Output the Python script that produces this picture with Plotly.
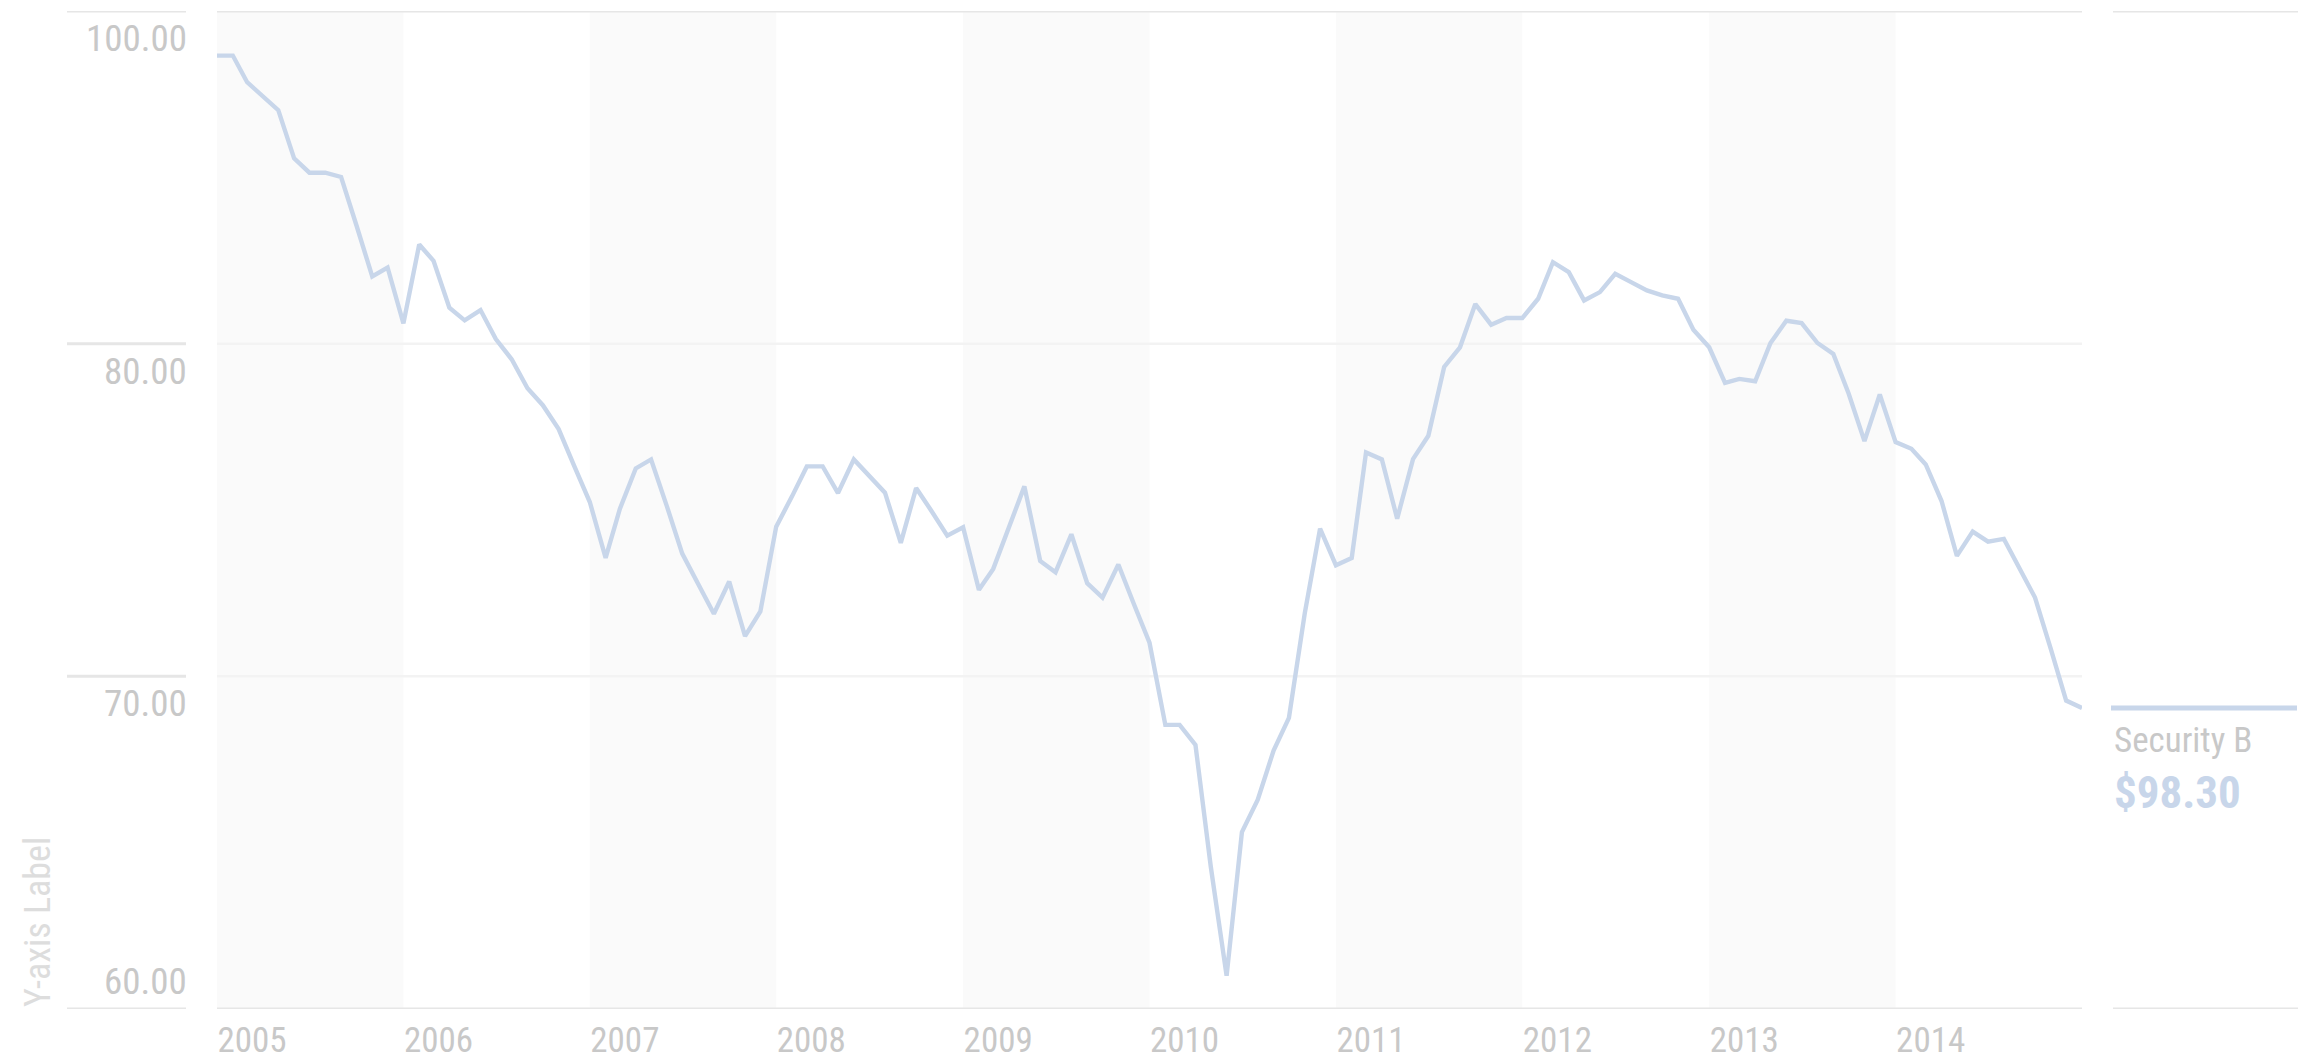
import pandas as pd
import plotly.graph_objects as go

# ---------------- data ----------------
start_month = "2005-01-01"
values = [
    88.66, 88.66, 87.86, 87.44, 87.02, 85.57, 85.14, 85.14, 85.01, 83.56, 82.02, 82.29,
    80.61, 82.98, 82.49, 81.08, 80.70, 81.01, 80.14, 79.53, 78.66, 78.15, 77.43, 76.34,
    75.24, 73.56, 75.04, 76.25, 76.52, 75.11, 73.69, 72.78, 71.88, 72.85, 71.21, 71.95,
    74.50, 75.41, 76.31, 76.31, 75.51, 76.52, 76.02, 75.52, 74.01, 75.66, 74.95, 74.23,
    74.48, 72.60, 73.23, 74.48, 75.71, 73.47, 73.13, 74.27, 72.80, 72.37, 73.36, 72.19,
    71.01, 68.54, 68.54, 67.94, 64.28, 61.00, 65.32, 66.29, 67.77, 68.75, 71.89, 74.44,
    73.34, 73.56, 76.73, 76.52, 74.74, 76.53, 77.23, 79.30, 79.89, 81.19, 80.57, 80.77,
    80.77, 81.35, 82.45, 82.15, 81.30, 81.55, 82.10, 81.85, 81.60, 81.45, 81.35, 80.42,
    79.89, 78.82, 78.94, 78.87, 80.02, 80.69, 80.62, 80.02, 79.69, 78.50, 77.07, 78.47,
    77.04, 76.84, 76.37, 75.27, 73.62, 74.35, 74.05, 74.13, 73.27, 72.37, 70.82, 69.27,
    69.05,
]
dates = pd.date_range(start_month, periods=len(values), freq="MS")

years = list(range(2005, 2015))
year_labels = [str(y) for y in years]
shaded_years = [2005, 2007, 2009, 2011, 2013]

y_tickvals = [90, 80, 70, 60]
y_ticktext = ["100.00", "80.00", "70.00", "60.00"]

series_name = "Security B"
series_value_label = "$98.30"
y_title = "Y-axis Label"

# ---------------- style ----------------
# the page body keeps its default 8px margin; the figure is offset by it
BODY = 8
W, H = 2306 - BODY, 1061 - BODY
ML, MT = 217 - BODY, 11 - BODY
MR = W - (2082 - BODY)
MB = H - (1009 - BODY)
PW = W - ML - MR
FONT = "Liberation Sans Narrow, Roboto Condensed, DejaVu Sans Condensed, Liberation Sans, sans-serif"
LINE_COLOR = "#c8d6ea"
TEXT_GRAY = "#c8c8c8"
GRID_DARK = "#e6e6e6"
GRID_LIGHT = "#f3f3f3"
BAND = "#fafafa"


def px_to_paper_x(px):
    # px measured on the page
    return (px - BODY - ML) / PW


fig = go.Figure()
fig.add_trace(go.Scatter(
    x=dates, y=values, mode="lines",
    line=dict(color=LINE_COLOR, width=4.4),
    hoverinfo="skip", showlegend=False,
))

shapes = []
for y in shaded_years:
    shapes.append(dict(type="rect", xref="x", yref="paper",
                       x0=f"{y}-01-01", x1=f"{y + 1}-01-01", y0=0, y1=1,
                       fillcolor=BAND, line=dict(width=0), layer="below"))

for v in y_tickvals:
    edge = v in (max(y_tickvals), min(y_tickvals))
    shapes.append(dict(type="line", xref="paper", yref="y", x0=0, x1=1, y0=v, y1=v,
                       line=dict(color=GRID_DARK if edge else GRID_LIGHT, width=3 if edge else 2.5),
                       layer="below"))
    shapes.append(dict(type="line", xref="paper", yref="y",
                       x0=px_to_paper_x(67), x1=px_to_paper_x(186), y0=v, y1=v,
                       line=dict(color=GRID_DARK, width=3), layer="below"))
    if edge:
        shapes.append(dict(type="line", xref="paper", yref="y",
                           x0=px_to_paper_x(2113), x1=px_to_paper_x(2299), y0=v, y1=v,
                           line=dict(color=GRID_DARK, width=3), layer="below"))

shapes.append(dict(type="line", xref="paper", yref="y",
                   x0=px_to_paper_x(2111), x1=px_to_paper_x(2297),
                   y0=values[-1], y1=values[-1],
                   line=dict(color=LINE_COLOR, width=5)))

annotations = []
for v, t in zip(y_tickvals, y_ticktext):
    bottom = v == min(y_tickvals)
    annotations.append(dict(
        xref="paper", yref="y", x=px_to_paper_x(189), y=v, text=t, showarrow=False,
        xanchor="right", yanchor="bottom" if bottom else "top",
        yshift=4 if bottom else -4,
        font=dict(family=FONT, size=37, color=TEXT_GRAY),
    ))

annotations.append(dict(
    xref="paper", yref="paper", x=px_to_paper_x(38), y=0, text=y_title, showarrow=False,
    textangle=-90, xanchor="center", yanchor="bottom",
    font=dict(family=FONT, size=36, color="#dddddd"),
))
annotations.append(dict(
    xref="paper", yref="y", x=px_to_paper_x(2112), y=values[-1], text=series_name,
    showarrow=False, xanchor="left", yanchor="top", yshift=-10,
    font=dict(family=FONT, size=35, color=TEXT_GRAY),
))
annotations.append(dict(
    xref="paper", yref="y", x=px_to_paper_x(2112), y=values[-1],
    text=f"<b>{series_value_label}</b>",
    showarrow=False, xanchor="left", yanchor="top", yshift=-56,
    font=dict(family=FONT, size=45, color=LINE_COLOR),
))

fig.update_layout(
    width=W, height=H,
    margin=dict(l=ML, r=MR, t=MT, b=MB, pad=0, autoexpand=False),
    paper_bgcolor="white", plot_bgcolor="white",
    shapes=shapes, annotations=annotations,
    showlegend=False,
    xaxis=dict(
        range=["2005-01-01", "2015-01-01"],
        tickvals=[f"{y}-01-01" for y in years], ticktext=year_labels,
        ticklabelposition="outside right",
        showgrid=False, zeroline=False, showline=False, automargin=False,
        ticks="outside", ticklen=4, tickcolor="rgba(0,0,0,0)",
        tickfont=dict(family=FONT, size=35, color=TEXT_GRAY),
        fixedrange=True,
    ),
    yaxis=dict(
        range=[60, 90], showticklabels=False, showgrid=False, zeroline=False,
        showline=False, ticks="", fixedrange=True, automargin=False,
    ),
)

fig.write_html("out.html", config={"displayModeBar": False})
